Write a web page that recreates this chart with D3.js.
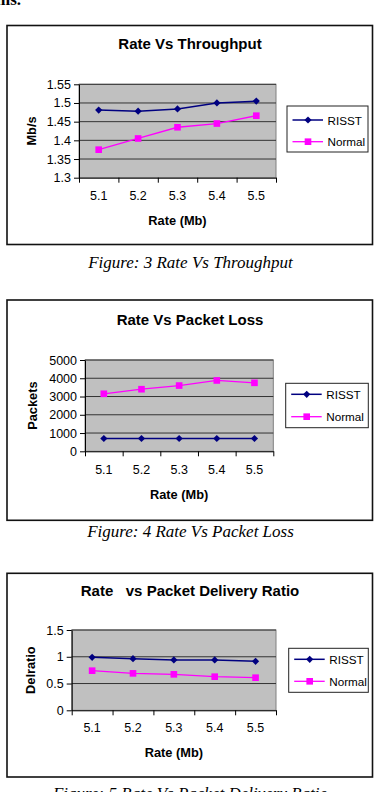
<!DOCTYPE html>
<html>
<head>
<meta charset="utf-8">
<script src="https://cdn.jsdelivr.net/npm/d3@7"></script>
<style>
  body { margin: 0; background: #fff; }
  svg { display: block; }
</style>
</head>
<body>
<script>
const width = 380
const height = 792

// data
const rates = ['5.1', '5.2', '5.3', '5.4', '5.5']
const seriesNames = ['RISST', 'Normal']

const throughputRisst = [1.481, 1.478, 1.484, 1.5, 1.505]
const throughputNormal = [1.375, 1.405, 1.435, 1.445, 1.466]
const throughputTicks = [1.3, 1.35, 1.4, 1.45, 1.5, 1.55]

const lossRisst = [700, 700, 700, 700, 700]
const lossNormal = [3150, 3400, 3600, 3880, 3750]
const lossTicks = [0, 1000, 2000, 3000, 4000, 5000]

const pdrRisst = [0.99, 0.964, 0.94, 0.94, 0.915]
const pdrNormal = [0.74, 0.69, 0.672, 0.628, 0.609]
const pdrTicks = [0, 0.5, 1, 1.5]

const colors = { RISST: '#000080', Normal: '#ff00ff' }
const sans = '"Liberation Sans", Arial, sans-serif'
const serif = '"Liberation Serif", "Times New Roman", serif'

const svg = d3.select('body').append('svg')
  .attr('width', width)
  .attr('height', height)

// cut-off text from the page above
svg.append('text')
  .attr('x', -4).attr('y', 4.5)
  .attr('font-family', serif).attr('font-weight', 'bold').attr('font-size', 17)
  .text('ms.')

function drawChart(c) {
  const g = svg.append('g')

  g.append('rect')
    .attr('x', c.box[0]).attr('y', c.box[1])
    .attr('width', c.box[2] - c.box[0]).attr('height', c.box[3] - c.box[1])
    .attr('fill', '#fff').attr('stroke', '#111').attr('stroke-width', 1.6)

  g.append('text')
    .attr('x', 190).attr('y', c.titleY)
    .attr('text-anchor', 'middle').attr('dominant-baseline', 'central')
    .attr('font-family', sans).attr('font-weight', 'bold').attr('font-size', 15)
    .attr('xml:space', 'preserve')
    .text(c.title)

  const p = c.plot
  const x = d3.scaleBand().domain(rates).range([p.l, p.r])
  const xEdges = d3.scaleLinear().domain([0, rates.length]).range([p.l, p.r])
  const y = d3.scaleLinear().domain(d3.extent(c.ticks)).range([p.b, p.t])

  g.append('rect')
    .attr('x', p.l).attr('y', p.t).attr('width', p.r - p.l).attr('height', p.b - p.t)
    .attr('fill', '#c0c0c0').attr('stroke', '#808080').attr('stroke-width', 1)

  g.selectAll('line.grid')
    .data(c.ticks.slice(1))
    .join('line')
    .attr('class', 'grid')
    .attr('x1', p.l).attr('x2', p.r)
    .attr('y1', d => y(d)).attr('y2', d => y(d))
    .attr('stroke', '#333').attr('stroke-width', 1)

  // y axis
  const yAxis = g.append('g')
    .attr('transform', `translate(${p.l},0)`)
    .call(d3.axisLeft(y).tickValues(c.ticks).tickSize(5).tickSizeOuter(0).tickPadding(3).tickFormat(d => String(d)))
  yAxis.select('.domain').attr('stroke', '#000')
  yAxis.selectAll('text').attr('font-family', sans).attr('font-size', 12.5).attr('fill', '#000')

  // x axis: ticks on the category edges, labels centred
  const xAxis = g.append('g')
    .attr('transform', `translate(0,${p.b})`)
    .call(d3.axisBottom(xEdges).tickValues(d3.range(rates.length + 1)).tickSize(5).tickSizeOuter(0).tickFormat(''))
  xAxis.select('.domain').attr('stroke', '#000')

  g.selectAll('text.xl')
    .data(rates)
    .join('text')
    .attr('class', 'xl')
    .attr('x', d => x(d) + x.bandwidth() / 2)
    .attr('y', c.xLabelY)
    .attr('text-anchor', 'middle').attr('dominant-baseline', 'central')
    .attr('font-family', sans).attr('font-size', 12.5)
    .text(d => d)

  g.append('text')
    .attr('x', (p.l + p.r) / 2).attr('y', c.xTitleY)
    .attr('text-anchor', 'middle').attr('dominant-baseline', 'central')
    .attr('font-family', sans).attr('font-weight', 'bold').attr('font-size', 12.8)
    .text('Rate (Mb)')

  g.append('text')
    .attr('transform', `translate(${c.yTitleX},${(p.t + p.b) / 2}) rotate(-90)`)
    .attr('text-anchor', 'middle').attr('dominant-baseline', 'central')
    .attr('font-family', sans).attr('font-weight', 'bold').attr('font-size', 12.8)
    .text(c.yTitle)

  const line = d3.line()
    .x((d, i) => x(rates[i]) + x.bandwidth() / 2)
    .y(d => y(d))

  const series = [
    { name: 'Normal', values: c.normal },
    { name: 'RISST', values: c.risst }
  ]
  const diamond = d3.symbol(d3.symbolSquare).size(26)
  const square = d3.symbol(d3.symbolSquare).size(44)

  series.forEach(s => {
    g.append('path')
      .attr('d', line(s.values))
      .attr('fill', 'none')
      .attr('stroke', colors[s.name])
      .attr('stroke-width', s.name === 'RISST' ? 1.5 : 1.3)
    g.selectAll('path.m-' + s.name)
      .data(s.values)
      .join('path')
      .attr('class', 'm-' + s.name)
      .attr('transform', (d, i) => `translate(${x(rates[i]) + x.bandwidth() / 2},${y(d)})` + (s.name === 'RISST' ? ' rotate(45)' : ''))
      .attr('d', s.name === 'RISST' ? diamond() : square())
      .attr('fill', colors[s.name])
  })

  // legend
  const L = c.legend
  g.append('rect')
    .attr('x', L.x).attr('y', L.y).attr('width', L.w).attr('height', L.h)
    .attr('fill', '#fff').attr('stroke', '#222').attr('stroke-width', 1)
  seriesNames.forEach((name, i) => {
    const ry = L.rows[i]
    g.append('line')
      .attr('x1', L.x + 5.5).attr('x2', L.x + 36)
      .attr('y1', ry).attr('y2', ry)
      .attr('stroke', colors[name]).attr('stroke-width', name === 'RISST' ? 1.5 : 1.3)
    g.append('path')
      .attr('transform', `translate(${L.x + 21},${ry})` + (name === 'RISST' ? ' rotate(45)' : ''))
      .attr('d', name === 'RISST' ? diamond() : square())
      .attr('fill', colors[name])
    g.append('text')
      .attr('x', L.x + 40.5).attr('y', ry)
      .attr('dominant-baseline', 'central')
      .attr('font-family', sans).attr('font-size', 11.7)
      .text(name)
  })

  svg.append('text')
    .attr('x', 190.5).attr('y', c.captionY)
    .attr('text-anchor', 'middle').attr('dominant-baseline', 'central')
    .attr('font-family', serif).attr('font-style', 'italic').attr('font-size', 17)
    .text(c.caption)
}

drawChart({
  box: [7, 25.5, 372.5, 244.5],
  title: 'Rate Vs Throughput',
  titleY: 43,
  plot: { l: 79, r: 276, t: 84.3, b: 177.7 },
  ticks: throughputTicks,
  risst: throughputRisst,
  normal: throughputNormal,
  xLabelY: 195.7,
  xTitleY: 220,
  yTitle: 'Mb/s',
  yTitleX: 31.5,
  legend: { x: 287, y: 106, w: 81, h: 46, rows: [120, 141.7] },
  captionY: 262,
  caption: 'Figure: 3 Rate Vs Throughput'
})

drawChart({
  box: [7, 300, 372.5, 520.3],
  title: 'Rate Vs Packet Loss',
  titleY: 319,
  plot: { l: 85, r: 273.3, t: 360, b: 451.3 },
  ticks: lossTicks,
  risst: lossRisst,
  normal: lossNormal,
  xLabelY: 470,
  xTitleY: 494,
  yTitle: 'Packets',
  yTitleX: 32,
  legend: { x: 285.7, y: 383.3, w: 82.6, h: 44.4, rows: [394.3, 416.7] },
  captionY: 531.7,
  caption: 'Figure: 4 Rate Vs Packet Loss'
})

drawChart({
  box: [7, 573.3, 372.5, 777],
  title: 'Rate   vs Packet Delivery Ratio',
  titleY: 590.7,
  plot: { l: 71.7, r: 276, t: 630, b: 710.3 },
  ticks: pdrTicks,
  risst: pdrRisst,
  normal: pdrNormal,
  xLabelY: 728.3,
  xTitleY: 752.3,
  yTitle: 'Delratio',
  yTitleX: 30.7,
  legend: { x: 288.7, y: 648.3, w: 79.6, h: 44, rows: [659.3, 681.3] },
  captionY: 793,
  caption: 'Figure: 5 Rate Vs Packet Delivery Ratio'
})
</script>
</body>
</html>
